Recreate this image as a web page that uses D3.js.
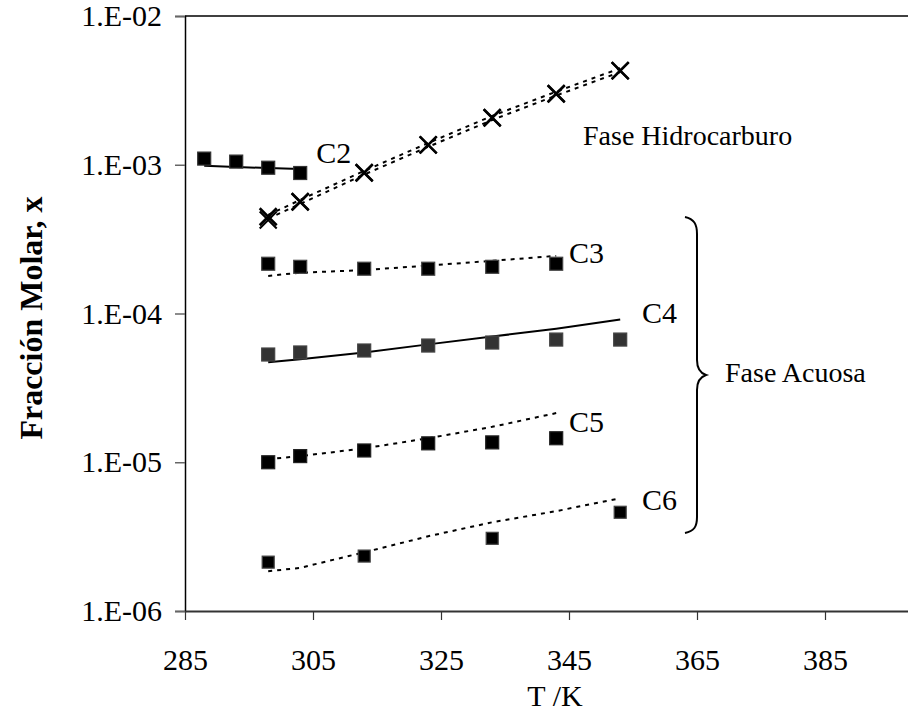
<!DOCTYPE html>
<html>
<head>
<meta charset="utf-8">
<script src="https://cdn.jsdelivr.net/npm/d3@7"></script>
<style>
  html, body { margin: 0; padding: 0; background: #fff; }
  svg { display: block; }
  text { font-family: "Liberation Serif", "Times New Roman", serif; fill: #000; }
</style>
</head>
<body>
<svg id="chart" width="908" height="713"></svg>
<script>
// Temperatures (K)
const T_C2_sq = [288, 293, 298, 303];
const T_hc = [298, 303, 313, 323, 333, 343, 353];
const T_C3 = [298, 303, 313, 323, 333, 343];
const T_C4 = [298, 303, 313, 323, 333, 343, 353];
const T_C5 = [298, 303, 313, 323, 333, 343];
const T_C6_sq = [298, 313, 333, 353];
const T_C6_line = [298, 303, 313, 323, 333, 343, 353];

// Mole fractions, hydrocarbon phase (C2 squares + solid fit)
const C2_points = [1.10e-3, 1.05e-3, 0.955e-3, 0.88e-3];
const C2_fit = [0.985e-3, 0.965e-3, 0.95e-3, 0.935e-3];

// Hydrocarbon phase crosses (two data sets) and two dashed models
const HC_crossA = [4.47e-4, 5.64e-4, 8.83e-4, 1.36e-3, 2.07e-3, 3.0e-3, 4.29e-3];
const HC_crossB = [4.25e-4, 5.64e-4, 8.83e-4, 1.36e-3, 2.07e-3, 3.0e-3, 4.29e-3];
const HC_modelA = [4.35e-4, 5.45e-4, 8.6e-4, 1.32e-3, 2.0e-3, 2.92e-3, 4.2e-3];
const HC_modelB = [4.6e-4, 5.8e-4, 9.1e-4, 1.4e-3, 2.13e-3, 3.1e-3, 4.45e-3];

// Aqueous phase
const C3_points = [2.16e-4, 2.06e-4, 2.0e-4, 2.0e-4, 2.06e-4, 2.16e-4];
const C3_model = [1.79e-4, 1.88e-4, 1.96e-4, 2.1e-4, 2.26e-4, 2.44e-4];
const C4_points = [5.3e-5, 5.47e-5, 5.64e-5, 6.09e-5, 6.38e-5, 6.68e-5, 6.68e-5];
const C4_model = [4.7e-5, 4.93e-5, 5.47e-5, 6.2e-5, 7.0e-5, 7.9e-5, 9.1e-5];
const C5_points = [1.0e-5, 1.10e-5, 1.20e-5, 1.34e-5, 1.36e-5, 1.45e-5];
const C5_model = [1.05e-5, 1.10e-5, 1.24e-5, 1.45e-5, 1.73e-5, 2.14e-5];
const C6_points = [2.13e-6, 2.34e-6, 3.08e-6, 4.61e-6];
const C6_model = [1.85e-6, 1.95e-6, 2.48e-6, 3.18e-6, 3.95e-6, 4.69e-6, 5.73e-6];

// Axes
const xTicks = [285, 305, 325, 345, 365, 385];
const yTicks = [1e-2, 1e-3, 1e-4, 1e-5, 1e-6];
const yTickLabels = ["1.E-02", "1.E-03", "1.E-04", "1.E-05", "1.E-06"];
const xTitle = "T /K";
const yTitle = "Fracción Molar, x";

// Series labels
const seriesLabels = [
  { text: "C2", T: 305.5, x: 1.02e-3 },
  { text: "C3", T: 345.0, x: 2.2e-4 },
  { text: "C4", T: 356.4, x: 8.6e-5 },
  { text: "C5", T: 345.0, x: 1.6e-5 },
  { text: "C6", T: 356.4, x: 4.8e-6 }
];

const svg = d3.select("#chart");
const plotLeft = 185, plotTop = 16, plotBottom = 611;

const x = d3.scaleLinear().domain([285, 405]).range([plotLeft, plotLeft + 768]);
const y = d3.scaleLog().domain([1e-6, 1e-2]).range([plotBottom, plotTop]);

// top border of the plot area
svg.append("line")
  .attr("x1", plotLeft).attr("x2", 908)
  .attr("y1", y(1e-2)).attr("y2", y(1e-2))
  .attr("stroke", "#000").attr("stroke-width", 1.5);

// y axis
const yAxis = svg.append("g")
  .attr("transform", `translate(${plotLeft},0)`)
  .call(d3.axisLeft(y).tickValues(yTicks)
    .tickFormat((d, i) => yTickLabels[i]).tickSize(10).tickPadding(13));
yAxis.select(".domain").attr("stroke", "#000").attr("stroke-width", 1.5);
yAxis.selectAll(".tick line").attr("stroke", "#666").attr("stroke-width", 1.5);
yAxis.selectAll(".tick text")
  .style("font-family", '"Liberation Serif", "Times New Roman", serif')
  .style("font-size", "30px").attr("fill", "#000");

// x axis
const xAxis = svg.append("g")
  .attr("transform", `translate(0,${plotBottom})`)
  .call(d3.axisBottom(x).tickValues(xTicks).tickSize(9).tickSizeOuter(0));
xAxis.select(".domain").attr("stroke", "#333").attr("stroke-width", 2);
xAxis.selectAll(".tick line").attr("stroke", "#333").attr("stroke-width", 1.2);
xAxis.selectAll(".tick text")
  .attr("y", 59).attr("dy", 0)
  .style("font-family", '"Liberation Serif", "Times New Roman", serif')
  .style("font-size", "30px").attr("fill", "#000");

// axis titles
svg.append("text")
  .attr("x", 555).attr("y", 706)
  .attr("text-anchor", "middle")
  .style("font-size", "30px")
  .text(xTitle);

svg.append("text")
  .attr("transform", `translate(42,318) rotate(-90)`)
  .attr("text-anchor", "middle")
  .style("font-size", "32px").style("font-weight", "bold")
  .text(yTitle);

const line = d3.line().x(d => x(d[0])).y(d => y(d[1]));
const zip = (ts, vs) => ts.map((t, i) => [t, vs[i]]);

function drawLine(ts, vs, dashed) {
  svg.append("path")
    .datum(zip(ts, vs))
    .attr("d", line)
    .attr("fill", "none")
    .attr("stroke", "#000")
    .attr("stroke-width", 2)
    .attr("stroke-dasharray", dashed ? "4,5" : null);
}

function drawSquares(ts, vs, size, fill, stroke) {
  svg.append("g").selectAll("rect")
    .data(zip(ts, vs)).join("rect")
    .attr("x", d => x(d[0]) - size / 2)
    .attr("y", d => y(d[1]) - size / 2)
    .attr("width", size).attr("height", size)
    .attr("fill", fill)
    .attr("stroke", stroke).attr("stroke-width", 1.2);
}

function drawCrosses(ts, vs, size, width) {
  const h = size / 2;
  svg.append("g").selectAll("path")
    .data(zip(ts, vs)).join("path")
    .attr("d", d => {
      const cx = x(d[0]), cy = y(d[1]);
      return `M${cx - h},${cy - h}L${cx + h},${cy + h}M${cx - h},${cy + h}L${cx + h},${cy - h}`;
    })
    .attr("stroke", "#000").attr("stroke-width", width).attr("fill", "none");
}

// models
drawLine(T_C2_sq, C2_fit, false);
drawLine(T_hc, HC_modelA, true);
drawLine(T_hc, HC_modelB, true);
drawLine(T_C3, C3_model, true);
drawLine(T_C4, C4_model, false);
drawLine(T_C5, C5_model, true);
drawLine(T_C6_line, C6_model, true);

// experimental points
drawSquares(T_C2_sq, C2_points, 13, "#000", "#333");
drawCrosses(T_hc, HC_crossA, 17, 2.6);
drawCrosses(T_hc, HC_crossB, 17, 2.0);
drawSquares(T_C3, C3_points, 13, "#000", "#444");
drawSquares(T_C4, C4_points, 13, "#333", "#444");
drawSquares(T_C5, C5_points, 13, "#000", "#222");
drawSquares(T_C6_sq, C6_points, 12, "#000", "#444");

// series labels
svg.append("g").selectAll("text")
  .data(seriesLabels).join("text")
  .attr("x", d => x(d.T)).attr("y", d => y(d.x))
  .style("font-size", "30px")
  .text(d => d.text);

// phase annotations
svg.append("text").attr("x", 583).attr("y", 145)
  .style("font-size", "28px").text("Fase Hidrocarburo");
svg.append("text").attr("x", 725).attr("y", 382)
  .style("font-size", "28px").text("Fase Acuosa");

// curly brace grouping the aqueous-phase series
svg.append("path")
  .attr("d", "M685,217 C694,219 697,224 697,234 L697,360 C697,369 700,373 706,375 C700,377 697,381 697,390 L697,517 C697,527 694,531 685,533")
  .attr("fill", "none").attr("stroke", "#000").attr("stroke-width", 2);
</script>
</body>
</html>
